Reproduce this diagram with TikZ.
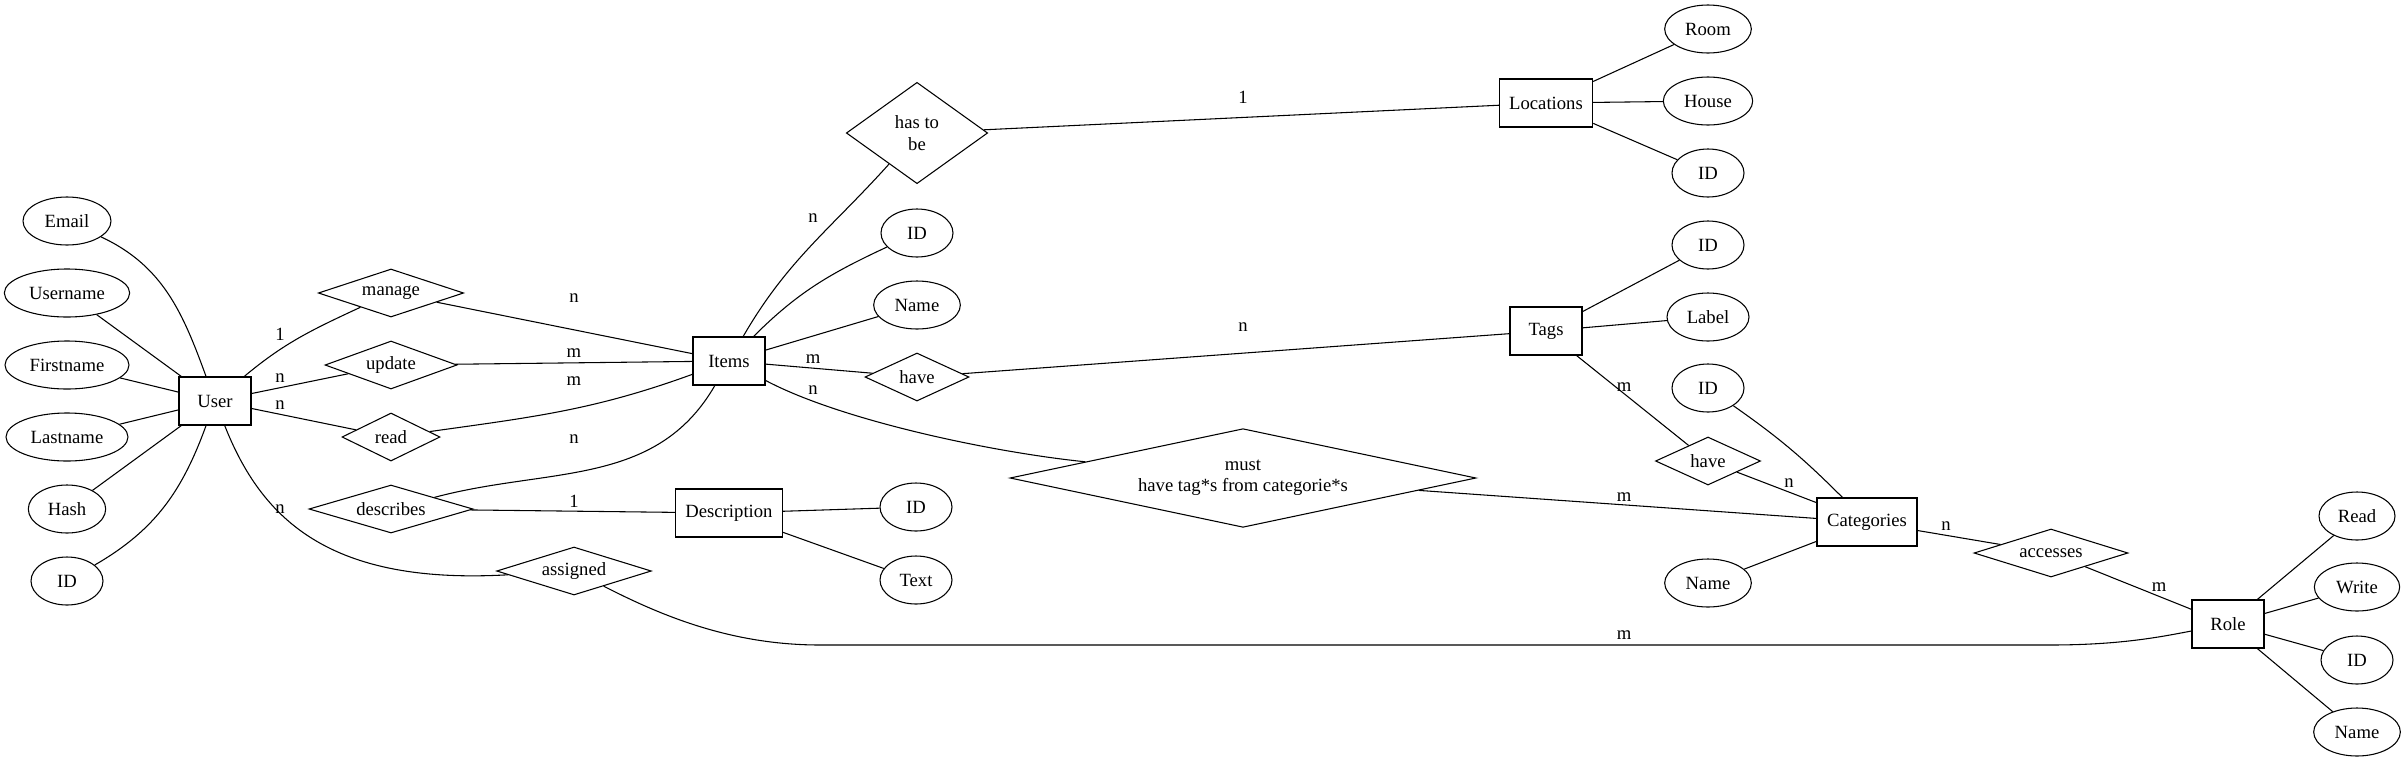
\documentclass[tikz,border=0pt]{standalone}
\usepackage{fontspec}
\newfontfamily\erfont{Liberation Serif}
\usetikzlibrary{shapes.geometric}

\begin{document}
\begin{tikzpicture}[x=0.75pt,y=0.75pt,line width=0.8pt,
  font=\erfont\fontsize{14}{16}\selectfont,
  entity/.style={draw,rectangle,minimum height=36pt,inner sep=0pt},
  attr/.style={draw,ellipse,minimum height=36pt,inner sep=0pt},
  rel/.style={draw,diamond,aspect=3,minimum height=36pt,inner sep=0pt},
  card/.style={inner sep=0pt}]
\useasboundingbox (0,0) rectangle (2402,-761);

% user and its attributes
\node[attr,minimum width=66pt] (email) at (67,-221) {Email};
\node[attr,minimum width=94pt] (username) at (67,-293) {Username};
\node[attr,minimum width=93pt] (firstname) at (67,-365) {Firstname};
\node[attr,minimum width=91.5pt] (lastname) at (67,-437) {Lastname};
\node[attr,minimum width=58pt] (hash) at (67,-509) {Hash};
\node[attr,minimum width=54pt] (userid) at (67,-581) {ID};
\node[entity,minimum width=54pt] (user) at (215,-401) {User};

% relations of the user
\node[rel,minimum width=109pt] (manage) at (391,-293) {manage};
\node[rel,minimum width=99pt] (update) at (391,-365) {update};
\node[rel,minimum width=73.5pt] (read) at (391,-437) {read};
\node[rel,minimum width=123pt] (describes) at (391,-509) {describes};
\node[rel,minimum width=116pt] (assigned) at (574,-571) {assigned};

% items and description
\node[entity,minimum width=54pt] (items) at (729,-361) {Items};
\node[entity,minimum width=80pt] (descr) at (729,-513) {Description};
\node[rel,aspect=1,align=center,minimum width=106pt,minimum height=76pt] (hasto) at (917,-133) {has to\\be};
\node[attr,minimum width=54pt] (itemid) at (917,-233) {ID};
\node[attr,minimum width=65pt] (itemname) at (917,-305) {Name};
\node[rel,minimum width=78pt] (havetag) at (917,-377) {have};
\node[attr,minimum width=54pt] (descrid) at (916,-507) {ID};
\node[attr,minimum width=54pt] (descrtext) at (916,-580) {Text};
\node[rel,aspect=4.7,align=center,minimum width=349.5pt,minimum height=74pt] (must) at (1243,-478) {must\\have tag*s from categorie*s};

% locations, tags, categories
\node[entity,minimum width=70pt] (locations) at (1546,-103) {Locations};
\node[attr,minimum width=65pt] (room) at (1708,-29) {Room};
\node[attr,minimum width=67pt] (house) at (1708,-101) {House};
\node[attr,minimum width=54pt] (locid) at (1708,-173) {ID};
\node[entity,minimum width=54pt] (tags) at (1546,-331) {Tags};
\node[attr,minimum width=54pt] (tagid) at (1708,-245) {ID};
\node[attr,minimum width=61.5pt] (taglabel) at (1708,-317) {Label};
\node[attr,minimum width=54pt] (catid) at (1708,-388) {ID};
\node[rel,minimum width=78.75pt] (havecat) at (1708,-461) {have};
\node[attr,minimum width=65pt] (catname) at (1708,-583) {Name};
\node[entity,minimum width=75pt] (categories) at (1867,-522) {Categories};

% role
\node[rel,minimum width=115.5pt] (accesses) at (2051,-553) {accesses};
\node[entity,minimum width=54pt] (role) at (2228,-624) {Role};
\node[attr,minimum width=57pt] (roleread) at (2357,-516) {Read};
\node[attr,minimum width=64pt] (rolewrite) at (2357,-587) {Write};
\node[attr,minimum width=54pt] (roleid) at (2357,-660) {ID};
\node[attr,minimum width=65pt] (rolename) at (2357,-732) {Name};

% attribute lines
\draw (email) to[out=-25,in=110] (user);
\draw (username) -- (user);
\draw (firstname) -- (user);
\draw (lastname) -- (user);
\draw (hash) -- (user);
\draw (userid) to[out=30,in=-110] (user);
\draw (items) to[out=45,in=-155] (itemid);
\draw (items) -- (itemname);
\draw (descr) -- (descrid);
\draw (descr) -- (descrtext);
\draw (locations) -- (room);
\draw (locations) -- (house);
\draw (locations) -- (locid);
\draw (tags) -- (tagid);
\draw (tags) -- (taglabel);
\draw (categories) to[out=135,in=-35] (catid);
\draw (categories) -- (catname);
\draw (role) -- (roleread);
\draw (role) -- (rolewrite);
\draw (role) -- (roleid);
\draw (role) -- (rolename);

% relation lines with cardinalities
\draw (user) to[out=40,in=-155] (manage) node[card] at (280,-334) {1};
\draw (manage) -- (items) node[card] at (574,-298) {n};
\draw (user) -- (update) node[card] at (280,-378) {n};
\draw (update) -- (items) node[card] at (574,-353) {m};
\draw (user) -- (read) node[card] at (280,-405) {n};
\draw (read) to[out=8,in=-160] (items) node[card] at (574,-381) {m};
\draw (describes) to[out=15,in=-120] (items) node[card] at (574,-439) {n};
\draw (describes) -- (descr) node[card] at (574,-501) {1};
\draw (user) .. controls (262,-520) and (330,-585) .. (assigned) node[card] at (280,-509) {n};
\draw (assigned) .. controls (660,-615) and (730,-645) .. (820,-645)
  -- (2050,-645) .. controls (2120,-645) and (2160,-637) .. (role)
  node[card] at (1624,-635) {m};
\draw (items) to[out=60,in=-132] (hasto) node[card] at (813,-218) {n};
\draw (hasto) -- (locations) node[card] at (1243,-97) {1};
\draw (items) -- (havetag) node[card] at (813,-359) {m};
\draw (havetag) -- (tags) node[card] at (1243,-327) {n};
\draw (items) .. controls (840,-420) and (990,-452) .. (must) node[card] at (813,-390) {n};
\draw (must) -- (categories) node[card] at (1624,-497) {m};
\draw (tags) -- (havecat) node[card] at (1624,-387) {m};
\draw (havecat) -- (categories) node[card] at (1789,-483) {n};
\draw (categories) -- (accesses) node[card] at (1946,-526) {n};
\draw (accesses) -- (role) node[card] at (2159,-587) {m};
\end{tikzpicture}
\end{document}
